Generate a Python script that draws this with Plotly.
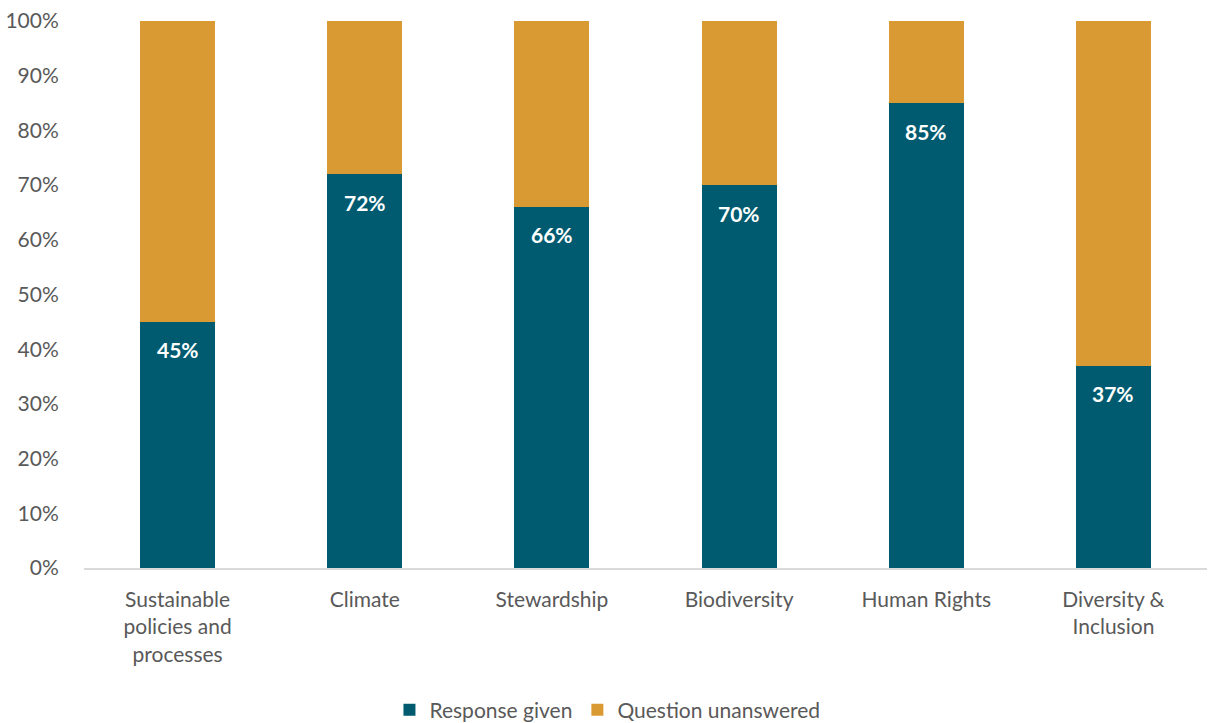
import plotly.graph_objects as go

categories = ["Sustainable<br>policies and<br>processes", "Climate", "Stewardship",
              "Biodiversity", "Human Rights", "Diversity &<br>Inclusion"]
response_given = [45, 72, 66, 70, 85, 37]
question_unanswered = [100 - v for v in response_given]

teal = "#005B70"
amber = "#D99A34"
grey_text = "#595959"
font_family = "Lato, 'Open Sans', sans-serif"

fig = go.Figure()
fig.add_trace(go.Bar(
    name="Response given", x=categories, y=response_given,
    marker=dict(color=teal, line=dict(width=0)),
))
fig.add_trace(go.Bar(
    name="Question unanswered", x=categories, y=question_unanswered,
    marker=dict(color=amber, line=dict(width=0)),
    hoverinfo="skip",
))

# Percentage labels just inside the top of each "Response given" bar
for cat, v in zip(categories, response_given):
    fig.add_annotation(
        x=cat, y=v, text=f"<b>{v}%</b>", showarrow=False,
        yanchor="middle", yshift=-28,
        font=dict(color="white", size=21, family=font_family),
    )

fig.update_layout(
    barmode="stack", bargap=0.6,
    width=1209, height=723,
    margin=dict(l=84, r=2, t=21, b=155, autoexpand=False),
    plot_bgcolor="white", paper_bgcolor="white",
    font=dict(family=font_family, size=21, color=grey_text),
    xaxis=dict(showline=True, linecolor="#D9D9D9", linewidth=1.5,
               ticks="outside", ticklen=12, tickcolor="rgba(0,0,0,0)",
               tickfont=dict(size=21, color=grey_text), automargin=False),
    yaxis=dict(range=[0, 100], dtick=10, ticksuffix="%", showgrid=False,
               zeroline=False, ticks="outside", ticklen=20,
               tickcolor="rgba(0,0,0,0)",
               tickfont=dict(size=21, color=grey_text), automargin=False),
    legend=dict(orientation="h", x=0.272, xanchor="left", y=-0.26, yanchor="middle",
                font=dict(size=21, color=grey_text), traceorder="normal",
                itemwidth=30),
)

fig.write_html("out.html")
